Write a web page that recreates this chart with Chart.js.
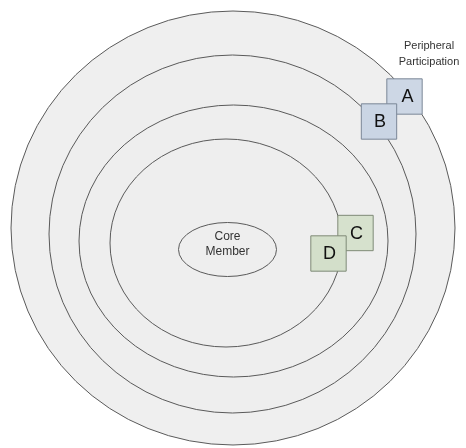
<!DOCTYPE html>
<html>
<head>
<meta charset="utf-8">
<script src="https://cdn.jsdelivr.net/npm/chart.js@4/dist/chart.umd.min.js"></script>
<style>
  html, body { margin: 0; padding: 0; background: #ffffff; }
  #wrap { width: 466px; height: 448px; }
</style>
</head>
<body>
<div id="wrap"><canvas id="c" width="466" height="448"></canvas></div>
<script>
// Concentric rings (outer to inner), in diagram units
const ringCx = [233, 232.5, 233.5, 226];
const ringCy = [228, 234, 241, 243];
const ringRx = [222, 183.5, 154.5, 116];
const ringRy = [217, 179, 136, 104];

// Core ellipse
const coreCx = [227.5];
const coreCy = [249.5];
const coreRx = [49];
const coreRy = [27];
const coreLabel = ['Core', 'Member'];

// Members (squares)
const memberNames = ['A', 'B', 'C', 'D'];
const memberX = [404.5, 379, 355.5, 328.5];
const memberY = [96.5, 121.5, 233, 253.5];
const memberFill = ['#cdd7e5', '#cad5e4', '#d6e1cd', '#d3dfca'];
const memberBorder = ['#7b8797', '#7b8797', '#7f8a77', '#7f8a77'];

// Annotation
const annotText = ['Peripheral', 'Participation'];
const annotX = [429];
const annotY = [46, 62];

const ringsPlugin = {
  id: 'rings',
  beforeDatasetsDraw(chart) {
    const { ctx, scales: { x, y } } = chart;
    ctx.save();
    for (let i = 0; i < ringCx.length; i++) {
      const px = x.getPixelForValue(ringCx[i]);
      const py = y.getPixelForValue(ringCy[i]);
      const rx = Math.abs(x.getPixelForValue(ringCx[i] + ringRx[i]) - px);
      const ry = Math.abs(y.getPixelForValue(ringCy[i] + ringRy[i]) - py);
      ctx.beginPath();
      ctx.ellipse(px, py, rx, ry, 0, 0, Math.PI * 2);
      ctx.fillStyle = i === 0 ? '#efefef' : '#eeeeee';
      ctx.fill();
      ctx.lineWidth = 1;
      ctx.strokeStyle = '#5a5a5a';
      ctx.stroke();
    }
    // core
    const cpx = x.getPixelForValue(coreCx[0]);
    const cpy = y.getPixelForValue(coreCy[0]);
    const crx = Math.abs(x.getPixelForValue(coreCx[0] + coreRx[0]) - cpx);
    const cry = Math.abs(y.getPixelForValue(coreCy[0] + coreRy[0]) - cpy);
    ctx.beginPath();
    ctx.ellipse(cpx, cpy, crx, cry, 0, 0, Math.PI * 2);
    ctx.fillStyle = '#eeeeee';
    ctx.fill();
    ctx.strokeStyle = '#5a5a5a';
    ctx.stroke();
    ctx.fillStyle = '#333333';
    ctx.font = '12px "Liberation Sans", Arial, sans-serif';
    ctx.textAlign = 'center';
    ctx.textBaseline = 'middle';
    ctx.fillText(coreLabel[0], cpx, cpy - 13);
    ctx.fillText(coreLabel[1], cpx, cpy + 2);

    // annotation
    ctx.font = '11px "Liberation Sans", Arial, sans-serif';
    ctx.fillStyle = '#333333';
    for (let i = 0; i < annotText.length; i++) {
      ctx.fillText(annotText[i], x.getPixelForValue(annotX[0]), y.getPixelForValue(annotY[i]));
    }
    ctx.restore();
  },
  afterDatasetsDraw(chart) {
    const { ctx } = chart;
    const meta = chart.getDatasetMeta(0);
    ctx.save();
    ctx.fillStyle = '#111111';
    ctx.font = '18px "Liberation Sans", Arial, sans-serif';
    ctx.textAlign = 'center';
    ctx.textBaseline = 'middle';
    meta.data.forEach((pt, i) => {
      ctx.fillText(memberNames[i], pt.x + (i === 0 ? 3 : 1), pt.y + 1);
    });
    ctx.restore();
  }
};

new Chart(document.getElementById('c'), {
  type: 'scatter',
  data: {
    datasets: [{
      label: 'Members',
      data: memberNames.map((n, i) => ({ x: memberX[i], y: memberY[i] })),
      pointStyle: 'rect',
      pointRadius: 25,
      pointHoverRadius: 25,
      backgroundColor: memberFill,
      borderColor: memberBorder,
      borderWidth: 1
    }]
  },
  options: {
    responsive: false,
    animation: false,
    layout: { padding: 0, autoPadding: false },
    plugins: { legend: { display: false }, tooltip: { enabled: false } },
    scales: {
      x: { type: 'linear', min: 0, max: 466, display: false },
      y: { type: 'linear', min: 0, max: 448, reverse: true, display: false }
    }
  },
  plugins: [ringsPlugin]
});
</script>
</body>
</html>
